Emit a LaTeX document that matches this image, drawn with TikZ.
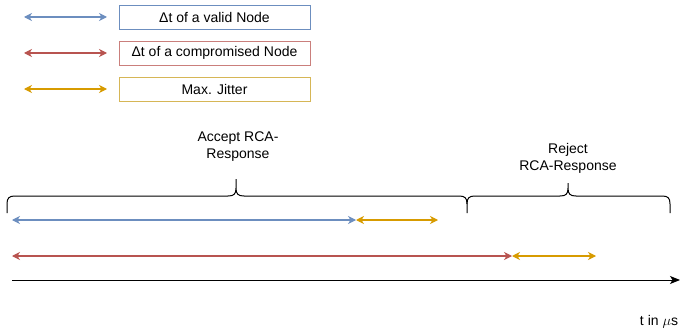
\documentclass[tikz,border=0pt]{standalone}
\usepackage{fontspec}
\setmainfont{Liberation Sans}
\usetikzlibrary{arrows.meta}
\definecolor{cblue}{HTML}{6C8EBF}
\definecolor{cred}{HTML}{B85450}
\definecolor{cyel}{HTML}{D79B00}
\definecolor{cyelbox}{HTML}{D6B656}
\begin{document}
\begin{tikzpicture}[x=1pt,y=-1pt,
  dbl/.style={{Stealth[length=8pt,width=8pt,inset=2.5pt]}-{Stealth[length=8pt,width=8pt,inset=2.5pt]}, line width=1.1pt},
  legbox/.style={draw, line width=0.9pt, minimum width=191pt, minimum height=24pt, inner sep=0pt, font=\fontsize{14}{17}\selectfont},
  lbl/.style={font=\fontsize{14}{17}\selectfont, align=center, inner sep=0pt},
  brace/.style={line width=1pt, line join=round}]
\useasboundingbox (0,0) rectangle (680,329);
% legend
\coordinate (l1a) at (24,17); \coordinate (l1b) at (107,17);
\coordinate (l2a) at (24,53); \coordinate (l2b) at (107,53);
\coordinate (l3a) at (24,89); \coordinate (l3b) at (107,89);
\draw[dbl, cblue] (l1a) -- (l1b);
\draw[dbl, cred] (l2a) -- (l2b);
\draw[dbl, cyel] (l3a) -- (l3b);
\node[legbox, draw=cblue] (b1) at (214.5,17) {Δt of a valid Node};
\node[legbox, draw=cred!75] (b2) at (214.5,53) {Δt of a compromised Node};
\node[legbox, draw=cyelbox] (b3) at (214.5,89) {Max. Jitter};
% labels
\node[lbl] (acc) at (238,147) {Accept RCA-\\Response};
\node[lbl] (rej) at (568,158) {Reject\\RCA-Response};
% braces
\draw[brace] (7,213) -- (7,204) .. controls (7,198) and (9,196) .. (15,196)
  -- (228,196) .. controls (234,196) and (236,194) .. (236,188) -- (236,179)
  (236,188) .. controls (236,194) and (238,196) .. (244,196)
  -- (459,196) .. controls (465,196) and (467,198) .. (467,204) -- (467,213);
\draw[brace] (467,204) .. controls (467,198) and (469,196) .. (475,196)
  -- (560,196) .. controls (566,196) and (568,194) .. (568,188) -- (568,183)
  (568,188) .. controls (568,194) and (570,196) .. (576,196)
  -- (662,196) .. controls (668,196) and (670,198) .. (670,204) -- (670,213);
% timeline arrows
\coordinate (a0) at (12,220); \coordinate (a1) at (356,220); \coordinate (a2) at (438,220);
\coordinate (r0) at (12,256); \coordinate (r1) at (512,256); \coordinate (r2) at (596,256);
\draw[dbl, cblue] (a0) -- (a1);
\draw[dbl, cyel] (a1) -- (a2);
\draw[dbl, cred] (r0) -- (r1);
\draw[dbl, cyel] (r1) -- (r2);
% axis
\coordinate (t0) at (12,280); \coordinate (t1) at (680,280);
\draw[line width=1pt, -{Stealth[length=10pt,width=8pt,inset=2.5pt]}] (t0) -- (t1);
\node[lbl, anchor=base] (tl) at (659,325) {t in $\mu$s};
\end{tikzpicture}
\end{document}
